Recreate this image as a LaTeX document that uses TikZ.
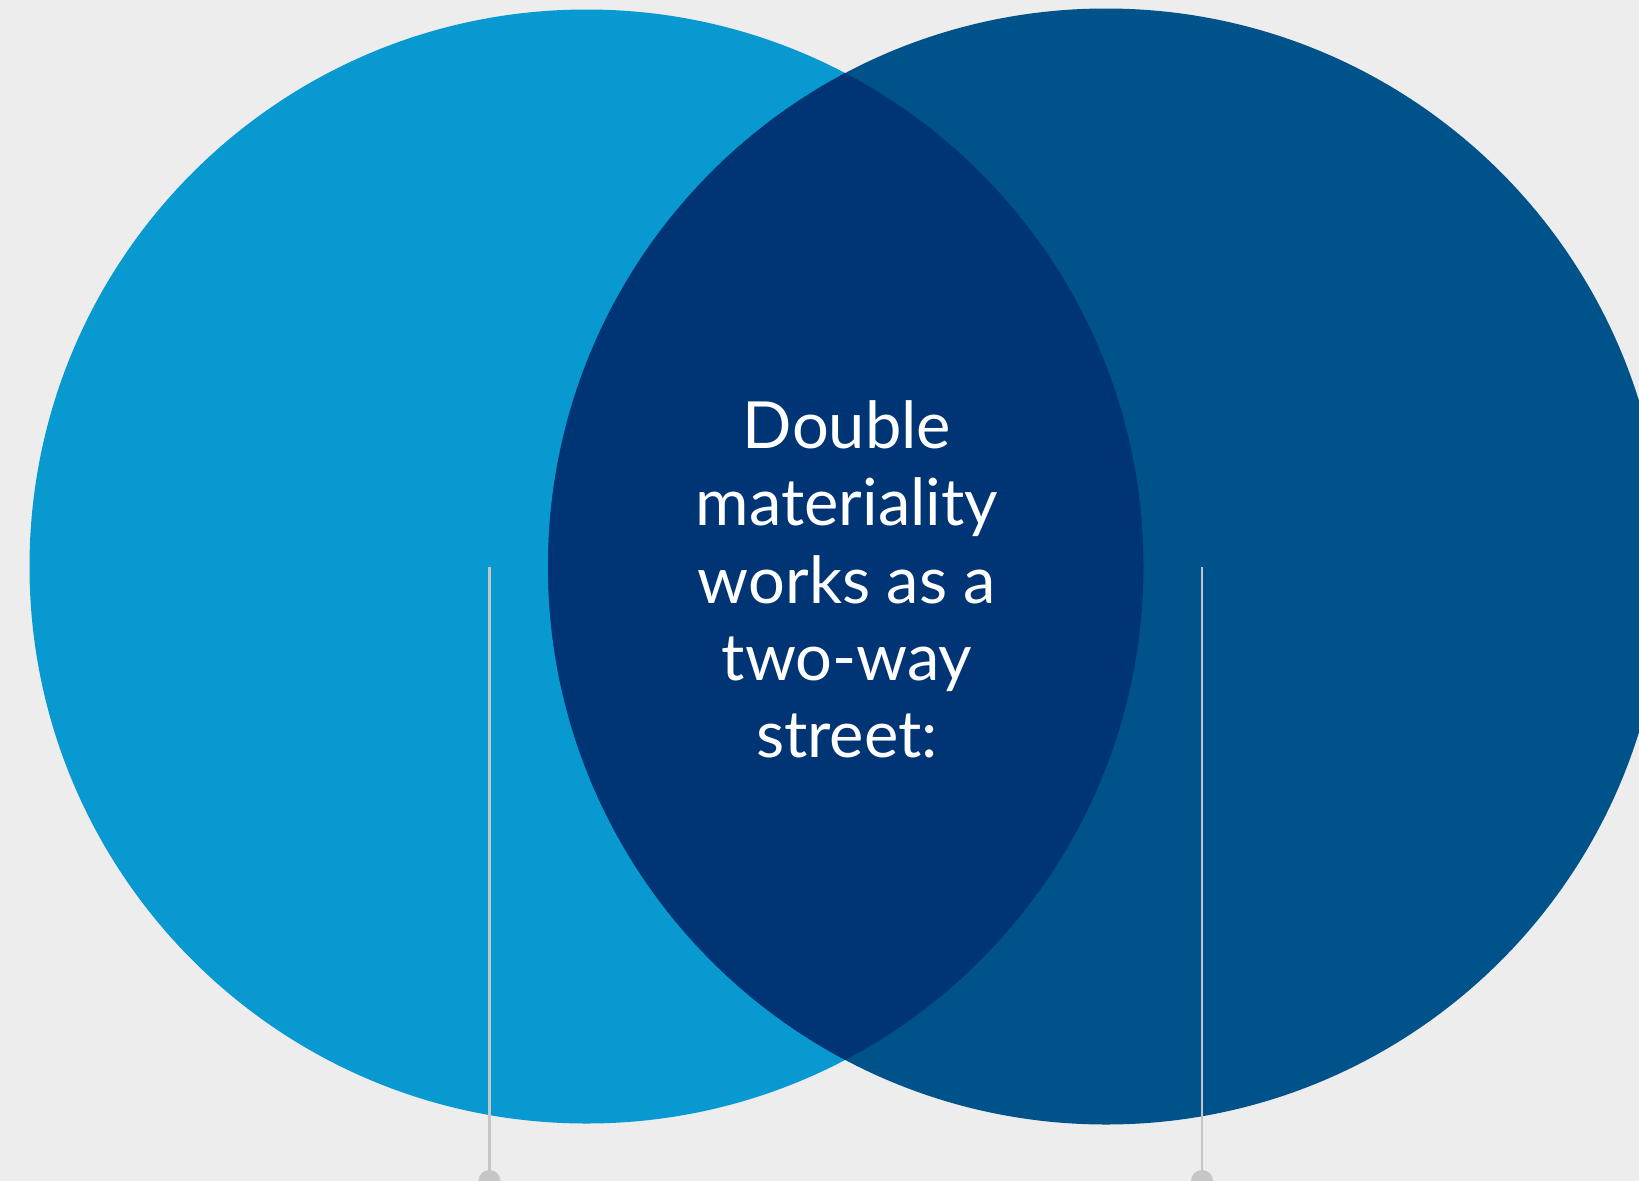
\documentclass[tikz,border=0pt]{standalone}
\usepackage{fontspec}
\setmainfont{Lato}
\definecolor{bgcol}{HTML}{EDEDED}
\definecolor{leftblue}{HTML}{0799CF}
\definecolor{rightblue}{HTML}{00538A}
\definecolor{overlapblue}{HTML}{003575}
\definecolor{leadergray}{HTML}{C6C6C6}
\begin{document}
\begin{tikzpicture}[x=1pt,y=-1pt,
  leader/.style={draw=leadergray,line width=2.5pt},
  leaderdot/.style={circle,fill=leadergray,inner sep=0pt,minimum size=22pt},
  title/.style={text=white,align=center,font=\fontsize{65}{77.4}\selectfont}]
  % canvas
  \fill[bgcol] (0,0) rectangle (1639,1181);
  \useasboundingbox (0,0) rectangle (1639,1181);
  \begin{scope}
    \clip (0,0) rectangle (1639,1181);
    % the two overlapping circles
    \fill[leftblue] (586.5,566.5) circle[radius=557];
    \fill[rightblue] (1106,566.5) circle[radius=558];
    \begin{scope}
      \clip (586.5,566.5) circle[radius=557];
      \fill[overlapblue] (1106,566.5) circle[radius=558];
    \end{scope}
    % leader lines ending in half-hidden dots
    \coordinate (ltop) at (489.5,567);
    \coordinate (rtop) at (1202,567);
    \node[leaderdot] (ldot) at (489.5,1181) {};
    \node[leaderdot] (rdot) at (1202,1181) {};
    \draw[leader] (ltop) -- (ldot.center);
    \draw[leader] (rtop) -- (rdot.center);
  \end{scope}
  \node[title] (msg) at (847,579.5) {Double\\materiality\\works as a\\two-way\\street:};
\end{tikzpicture}
\end{document}
